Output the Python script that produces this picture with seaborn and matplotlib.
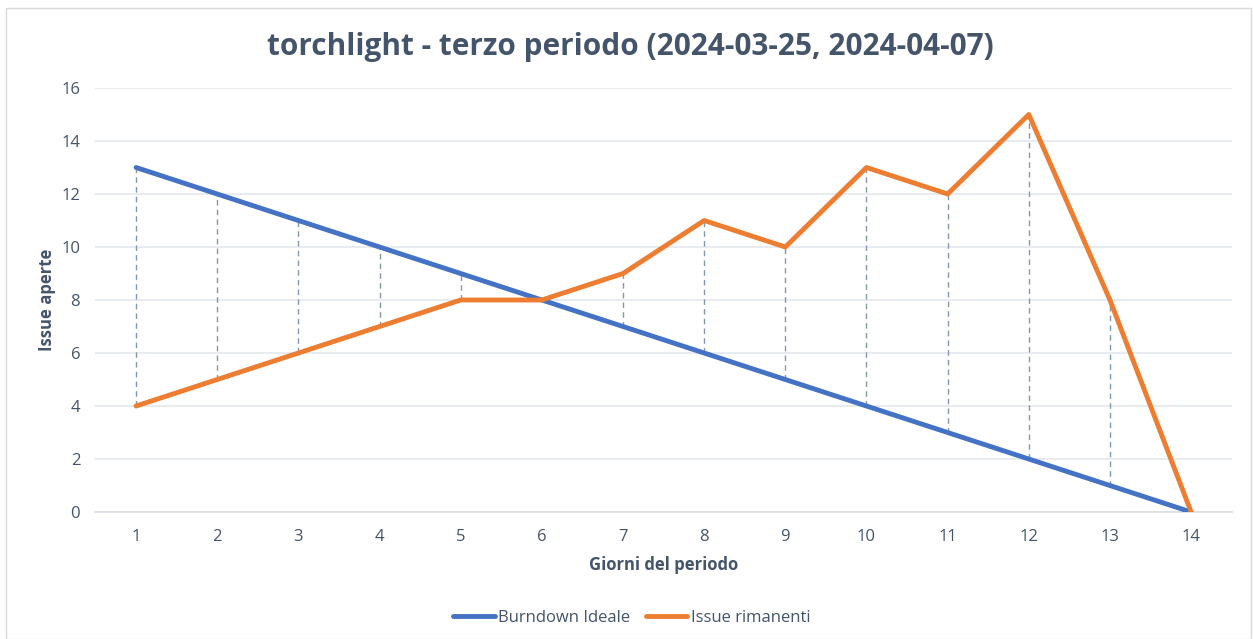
import matplotlib
matplotlib.use('Agg')
from matplotlib import pyplot as plt
from matplotlib.patches import Rectangle
import seaborn as sns
import pandas as pd

giorni = list(range(1, 15))
burndown_ideale = [13, 12, 11, 10, 9, 8, 7, 6, 5, 4, 3, 2, 1, 0]
issue_rimanenti = [4, 5, 6, 7, 8, 8, 9, 11, 10, 13, 12, 15, 8, 0]

dati = pd.DataFrame({
    'giorno': giorni * 2,
    'issue': burndown_ideale + issue_rimanenti,
    'serie': ['Burndown Ideale'] * 14 + ['Issue rimanenti'] * 14,
})

sns.set_style('white')
plt.rcParams['font.family'] = ['Open Sans', 'DejaVu Sans']

testo = '#44546A'
fig = plt.figure(figsize=(12.53, 6.39), dpi=100)
ax = fig.add_axes([0.0762, 0.1987, 0.9068, 0.6636])

# linee verticali tratteggiate tra le due serie
basso = [min(a, b) for a, b in zip(burndown_ideale, issue_rimanenti)]
alto = [max(a, b) for a, b in zip(burndown_ideale, issue_rimanenti)]
ax.vlines(giorni, basso, alto, colors='#8497B0', linestyles=(0, (4, 3)), linewidth=1, zorder=1)

sns.lineplot(data=dati, x='giorno', y='issue', hue='serie', sort=False,
             palette=['#4472C4', '#ED7D31'], linewidth=3.5, ax=ax, zorder=3,
             solid_capstyle='round')

ax.set_xlim(0.5, 14.5)
ax.set_ylim(0, 16)
ax.set_yticks(range(0, 17, 2))
ax.set_xticks(giorni)
ax.set_xticks([g + 0.5 for g in range(0, 15)], minor=True)
ax.yaxis.grid(True, color='#E4E7EC', linewidth=1.2)
ax.set_axisbelow(True)
for lato in ['top', 'right', 'left']:
    ax.spines[lato].set_visible(False)
ax.spines['bottom'].set_color('#D9DEE6')
ax.spines['bottom'].set_linewidth(1.2)
ax.tick_params(axis='x', which='major', length=0, pad=12, labelsize=12, labelcolor=testo)
ax.tick_params(axis='x', which='minor', length=6, color='#D9DEE6', width=1.2)
ax.tick_params(axis='y', length=0, pad=11, labelsize=12, labelcolor=testo)

ax.set_xlabel('Giorni del periodo', fontsize=12, fontweight='bold', color=testo, labelpad=8)
ax.set_ylabel('Issue aperte', fontsize=12, fontweight='bold', color=testo, labelpad=4)
fig.text(0.503, 0.926, 'torchlight - terzo periodo (2024-03-25, 2024-04-07)', fontsize=21.4,
         fontweight='bold', color=testo, ha='center', va='center')

ax.legend(loc='upper center', bbox_to_anchor=(0.472, -0.196), ncol=2, frameon=False,
          fontsize=12, labelcolor=testo, handlelength=2.5, handletextpad=0.2,
          columnspacing=0.9, title=None)

fig.patches.append(Rectangle((6 / 1253, 0.0), 1245 / 1253, 631 / 639, transform=fig.transFigure,
                             fill=False, edgecolor='#D9D9D9', linewidth=1))

fig.savefig('out.png', dpi=100)
